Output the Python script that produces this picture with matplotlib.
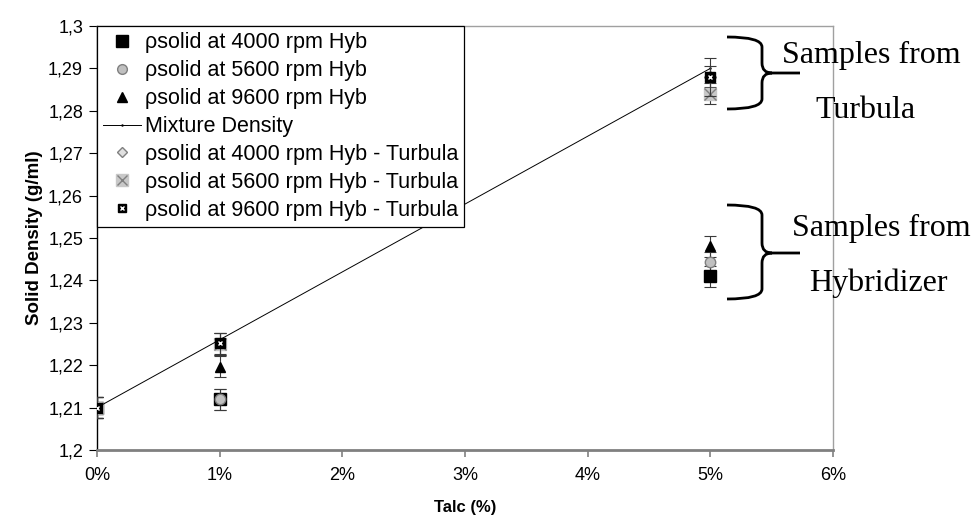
import matplotlib
matplotlib.use("Agg")
import matplotlib.pyplot as plt
from matplotlib.lines import Line2D
from matplotlib.path import Path
from matplotlib.patches import PathPatch
from matplotlib.ticker import FuncFormatter, MultipleLocator

plt.rcParams['font.family'] = ['Liberation Sans', 'DejaVu Sans']

# ---- data ----
talc = [0, 1, 5]
hyb_4000 = [1.210, 1.212, 1.241]
hyb_5600 = [1.210, 1.212, 1.2443]
hyb_9600 = [1.210, 1.2196, 1.248]
mix_talc = [0, 1, 5]
mix_density = [1.210, 1.226, 1.290]
turb_4000 = [1.210, 1.225, 1.2880]
turb_5600 = [1.210, 1.225, 1.2840]
turb_9600 = [1.210, 1.2252, 1.2880]
err_hyb = [0.0025, 0.0025, 0.0025]
err_turb = [0.0025, 0.0025, 0.0025]
err_turb_9600 = [0.0025, 0.0025, 0.0045]

labels = ["ρsolid at 4000 rpm Hyb", "ρsolid at 5600 rpm Hyb", "ρsolid at 9600 rpm Hyb",
          "Mixture Density", "ρsolid at 4000 rpm Hyb - Turbula",
          "ρsolid at 5600 rpm Hyb - Turbula", "ρsolid at 9600 rpm Hyb - Turbula"]

W, H = 974, 523
fig = plt.figure(figsize=(W / 100, H / 100), dpi=100)
ax = fig.add_axes([97 / W, 1 - 450 / H, (833 - 97) / W, (450 - 26) / H])

ecol = '#3a3a3a'
ekw = dict(ls='none', ecolor=ecol, elinewidth=0.8, capsize=4, capthick=0.8)

ax.errorbar(talc, hyb_4000, yerr=err_hyb, marker='s', ms=9, mfc='black', mec='black', **ekw, zorder=3)
ax.errorbar(talc, hyb_5600, yerr=err_hyb, marker='o', ms=7.5, mfc='#c0c0c0', mec='#808080', **ekw, zorder=3)
ax.errorbar(talc, hyb_9600, yerr=err_hyb, marker='^', ms=7.5, mfc='black', mec='black', **ekw, zorder=3)
ax.plot(mix_talc, mix_density, color='black', lw=0.7, marker='.', ms=1.5, zorder=4)
ax.errorbar(talc, turb_4000, yerr=err_turb, marker='D', ms=6, mfc='#c0c0c0', mec='#808080', **ekw, zorder=3)
ax.errorbar(talc, turb_5600, yerr=err_turb, marker='s', ms=9, mfc='#c8c8c8', mec='#c8c8c8', **ekw, zorder=3)
ax.plot(talc, turb_5600, ls='none', marker='x', ms=8, mew=1.0, color='#808080', zorder=3.1)
ax.errorbar(talc, turb_9600, yerr=err_turb_9600, marker='s', ms=6.5, mfc='black', mec='black', **ekw, zorder=5)
ax.plot(talc, turb_9600, ls='none', marker='x', ms=3, mew=1.0, color='white', zorder=5.1)

ax.set_xlim(0, 6)
ax.set_ylim(1.2, 1.3)
ax.xaxis.set_major_locator(MultipleLocator(1))
ax.yaxis.set_major_locator(MultipleLocator(0.01))
ax.xaxis.set_major_formatter(FuncFormatter(lambda v, p: f"{v:.0f}%"))


def yfmt(v, p):
    s = f"{v:.2f}".rstrip('0').rstrip('.')
    return s.replace('.', ',')


ax.yaxis.set_major_formatter(FuncFormatter(yfmt))
ax.tick_params(axis='both', labelsize=13, direction='out')
ax.tick_params(axis='x', color='#808080', length=5, width=1.2, pad=7)
ax.tick_params(axis='y', color='black', length=6, width=0.8, pad=4)
ax.spines['left'].set_color('black')
ax.spines['left'].set_linewidth(1.0)
ax.spines['bottom'].set_color('#808080')
ax.spines['bottom'].set_linewidth(2.0)
ax.spines['top'].set_color('#a0a0a0')
ax.spines['right'].set_color('#a0a0a0')
ax.spines['top'].set_linewidth(1.0)
ax.spines['right'].set_linewidth(1.0)

ax.set_xlabel("Talc (%)", fontsize=12, fontweight='bold', labelpad=12)
ax.set_ylabel("Solid Density (g/ml)", fontsize=13.5, fontweight='bold', labelpad=4)

# legend
handles = [
    Line2D([], [], ls='none', marker='s', ms=8, mfc='black', mec='black'),
    Line2D([], [], ls='none', marker='o', ms=7, mfc='#c0c0c0', mec='#808080'),
    Line2D([], [], ls='none', marker='^', ms=7, mfc='black', mec='black'),
    Line2D([], [], color='black', lw=0.7, marker='.', ms=1.5),
    Line2D([], [], ls='none', marker='D', ms=5.5, mfc='#e0e0e0', mec='#808080'),
    (Line2D([], [], ls='none', marker='s', ms=8, mfc='#c8c8c8', mec='#c8c8c8'),
     Line2D([], [], ls='none', marker='x', ms=7, mew=1.0, color='#808080')),
    (Line2D([], [], ls='none', marker='s', ms=6, mfc='black', mec='black'),
     Line2D([], [], ls='none', marker='x', ms=3, mew=1.0, color='white')),
]
leg = ax.legend(handles, labels, loc='upper left', bbox_to_anchor=(0, 1), borderaxespad=0,
                fontsize=15.5, frameon=True, fancybox=False, edgecolor='black',
                framealpha=1, handlelength=1.75, handletextpad=0.16, labelspacing=0.32,
                borderpad=0.3)
leg.get_frame().set_linewidth(0.9)
leg.set_zorder(10)


# braces
def brace(xl, y0, ym, y1, xv, xr, r):
    def f(x, y):
        return (x / W, 1 - y / H)
    verts = [f(xl, y0), f(xv, y0), f(xv, y0 + r),
             f(xv, ym - r),
             f(xv, ym), f(xv + r, ym),
             f(xr, ym),
             f(xv + r, ym),
             f(xv, ym), f(xv, ym + r),
             f(xv, y1 - r),
             f(xv, y1), f(xl, y1)]
    codes = [Path.MOVETO, Path.CURVE3, Path.CURVE3,
             Path.LINETO,
             Path.CURVE3, Path.CURVE3,
             Path.LINETO,
             Path.MOVETO,
             Path.CURVE3, Path.CURVE3,
             Path.LINETO,
             Path.CURVE3, Path.CURVE3]
    patch = PathPatch(Path(verts, codes), transform=fig.transFigure, fill=False,
                      lw=2.0, color='black', capstyle='butt', joinstyle='round')
    fig.add_artist(patch)


brace(727, 37, 73, 109, 762, 800, 10)
brace(727, 205, 253, 299, 762, 800, 10)

serif = ['Liberation Serif', 'DejaVu Serif']
fs = 23
fig.text(871 / W, 1 - 55 / H, "Samples from", family=serif, fontsize=fs, ha='center', va='center')
fig.text(866 / W, 1 - 110 / H, "Turbula", family=serif, fontsize=fs, ha='center', va='center')
fig.text(881 / W, 1 - 228 / H, "Samples from", family=serif, fontsize=fs, ha='center', va='center')
fig.text(878 / W, 1 - 283 / H, "Hybridizer", family=serif, fontsize=fs, ha='center', va='center')

fig.savefig("out.png", dpi=100)
